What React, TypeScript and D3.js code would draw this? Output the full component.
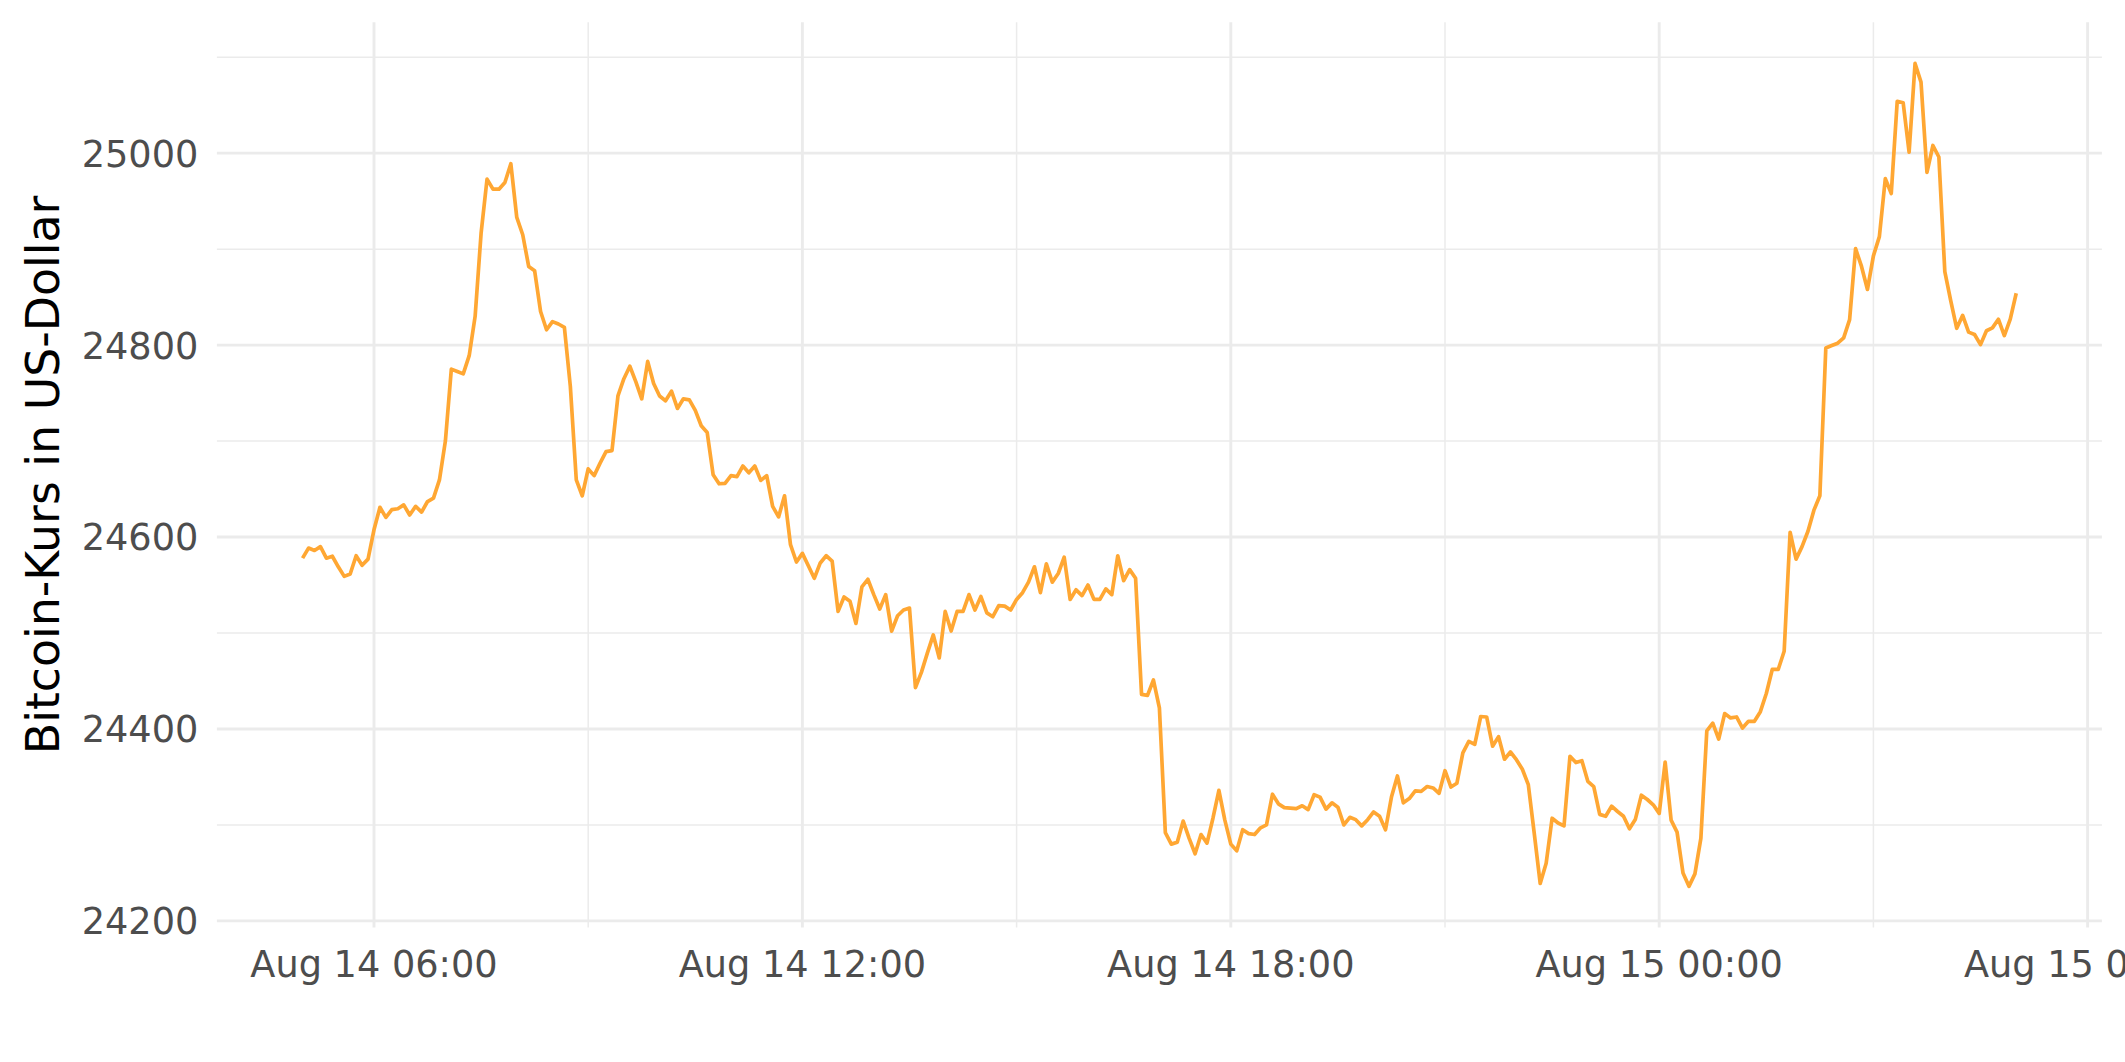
import React from 'react';
import * as d3 from 'd3';

// Bitcoin price (USD), 5-minute steps from Aug 14 2022 05:00 to Aug 15 2022 05:00 (UTC)
const START = Date.UTC(2022, 7, 14, 5, 0, 0);
const STEP_MINUTES = 5;
const PRICE: number[] = [
  24578, 24588.5, 24586, 24590, 24578, 24580, 24569, 24559, 24561.5, 24580.5,
  24570.5, 24577, 24607.5, 24631, 24620.5, 24628.5, 24629.5, 24633.5, 24623, 24632,
  24626, 24637, 24640.5, 24659.5, 24700, 24775, 24772.5, 24770, 24789, 24830,
  24916.5, 24973, 24962.5, 24962.5, 24969.5, 24989, 24933, 24915, 24882, 24877.5,
  24835, 24816, 24824.5, 24822, 24818.5, 24757, 24659.5, 24643, 24671, 24664,
  24677, 24689, 24690, 24747, 24765, 24778, 24762, 24744, 24783, 24760,
  24747, 24742, 24752, 24734, 24744, 24743, 24732, 24716, 24709, 24665,
  24655.5, 24656, 24664, 24663, 24674, 24667, 24674, 24659, 24664, 24632,
  24621, 24643, 24592, 24574, 24583, 24570, 24557, 24573, 24580.5, 24575,
  24522.5, 24537.5, 24533, 24510, 24548, 24556, 24540, 24525, 24540, 24502,
  24518, 24524, 24526, 24443, 24459, 24479, 24498, 24474, 24522.5, 24502,
  24522.5, 24522.5, 24540, 24524, 24538, 24521, 24517, 24528.5, 24528, 24524,
  24535, 24542, 24553, 24569, 24542, 24572, 24553, 24562, 24579, 24535,
  24545, 24539, 24550, 24535, 24535, 24546, 24540, 24580.5, 24554.5, 24566,
  24557, 24436, 24435, 24451, 24422, 24292, 24280, 24282, 24304, 24286,
  24270, 24290, 24281, 24307, 24336, 24305, 24280, 24273, 24295, 24291,
  24290, 24297, 24300, 24332, 24322, 24318, 24317.5, 24317, 24320, 24316,
  24331.5, 24329, 24316.5, 24323, 24318.5, 24300, 24308, 24305.5, 24299, 24305.5,
  24313.5, 24309, 24295, 24329, 24351, 24323, 24327.5, 24335.5, 24335, 24340,
  24338.5, 24333, 24356.5, 24339.5, 24343.5, 24375, 24387, 24384, 24413, 24412.5,
  24382, 24392, 24368.5, 24376, 24368, 24358, 24342, 24291, 24239, 24260,
  24307, 24302, 24299, 24371.5, 24365, 24367, 24345.5, 24340, 24311, 24309,
  24319.5, 24314, 24309, 24296, 24306, 24331, 24326.5, 24321, 24312, 24365.5,
  24305, 24292.5, 24250, 24236, 24249, 24286, 24398, 24406, 24389.5, 24416,
  24411.5, 24412.5, 24401, 24408, 24408, 24418, 24437, 24462, 24462, 24481,
  24605, 24577, 24590, 24606, 24628, 24643, 24797, 24799.5, 24802, 24807.5,
  24826.5, 24900.5, 24882, 24858, 24893, 24913, 24973.5, 24958, 25054, 25052.5,
  25001, 25093.5, 25074, 24980, 25008, 24996, 24876.5, 24846, 24817.5, 24831,
  24813.5, 24811, 24800.5, 24815, 24818, 24827, 24810, 24827, 24854,
];

const Y_MAJOR = [24200, 24400, 24600, 24800, 25000];
const Y_MINOR = [24300, 24500, 24700, 24900, 25100];
const X_MAJOR = [
  Date.UTC(2022, 7, 14, 6), Date.UTC(2022, 7, 14, 12), Date.UTC(2022, 7, 14, 18),
  Date.UTC(2022, 7, 15, 0), Date.UTC(2022, 7, 15, 6),
];
const X_LABELS = ['Aug 14 06:00', 'Aug 14 12:00', 'Aug 14 18:00', 'Aug 15 00:00', 'Aug 15 06:00'];
const X_MINOR = [
  Date.UTC(2022, 7, 14, 9), Date.UTC(2022, 7, 14, 15), Date.UTC(2022, 7, 14, 21),
  Date.UTC(2022, 7, 15, 3),
];
const Y_TITLE = 'Bitcoin-Kurs in US-Dollar';

const W = 2125;
const H = 1062;
const PANEL = { left: 216.9, right: 2101.9, top: 22.3, bottom: 927.5 };
const LINE_COLOR = '#FFA733';
const GRID = '#EBEBEB';
const FONT = '"DejaVu Sans", sans-serif';

export default function App() {
  const data = PRICE.map((v, i) => ({ t: new Date(START + i * STEP_MINUTES * 60000), v }));
  const tExt = d3.extent(data, (d) => d.t.getTime()) as [number, number];
  const tPad = (tExt[1] - tExt[0]) * 0.05;
  const vExt = d3.extent(data, (d) => d.v) as [number, number];
  const vPad = (vExt[1] - vExt[0]) * 0.05;

  const x = d3.scaleUtc()
    .domain([new Date(tExt[0] - tPad), new Date(tExt[1] + tPad)])
    .range([PANEL.left, PANEL.right]);
  const y = d3.scaleLinear()
    .domain([vExt[0] - vPad, vExt[1] + vPad])
    .range([PANEL.bottom, PANEL.top]);

  const line = d3.line<{ t: Date; v: number }>()
    .x((d) => x(d.t))
    .y((d) => y(d.v));

  return (
    <svg width={W} height={H} viewBox={`0 0 ${W} ${H}`}
      style={{ position: 'absolute', left: 0, top: 0, background: '#fff' }}>
      <rect x={0} y={0} width={W} height={H} fill="#fff" />
      {Y_MINOR.map((v) => (
        <line key={'ym' + v} x1={PANEL.left} x2={PANEL.right} y1={y(v)} y2={y(v)}
          stroke={GRID} strokeWidth={1.5} />
      ))}
      {X_MINOR.map((t) => (
        <line key={'xm' + t} x1={x(new Date(t))} x2={x(new Date(t))} y1={PANEL.top} y2={PANEL.bottom}
          stroke={GRID} strokeWidth={1.5} />
      ))}
      {Y_MAJOR.map((v) => (
        <line key={'yM' + v} x1={PANEL.left} x2={PANEL.right} y1={y(v)} y2={y(v)}
          stroke={GRID} strokeWidth={2.9} />
      ))}
      {X_MAJOR.map((t) => (
        <line key={'xM' + t} x1={x(new Date(t))} x2={x(new Date(t))} y1={PANEL.top} y2={PANEL.bottom}
          stroke={GRID} strokeWidth={2.9} />
      ))}
      <path d={line(data) || ''} fill="none" stroke={LINE_COLOR} strokeWidth={3.7}
        strokeLinejoin="round" strokeLinecap="butt" />
      {Y_MAJOR.map((v) => (
        <text key={'yl' + v} x={198.4} y={y(v) + 13.4} textAnchor="end"
          fontFamily={FONT} fontSize={36.7} fill="#4D4D4D">{v}</text>
      ))}
      {X_MAJOR.map((t, i) => (
        <text key={'xl' + t} x={x(new Date(t))} y={976.5} textAnchor="middle"
          fontFamily={FONT} fontSize={36.7} fill="#4D4D4D">{X_LABELS[i]}</text>
      ))}
      <text transform={`translate(59, ${(PANEL.top + PANEL.bottom) / 2}) rotate(-90)`}
        textAnchor="middle" fontFamily={FONT} fontSize={45.8} fill="#000">{Y_TITLE}</text>
    </svg>
  );
}
